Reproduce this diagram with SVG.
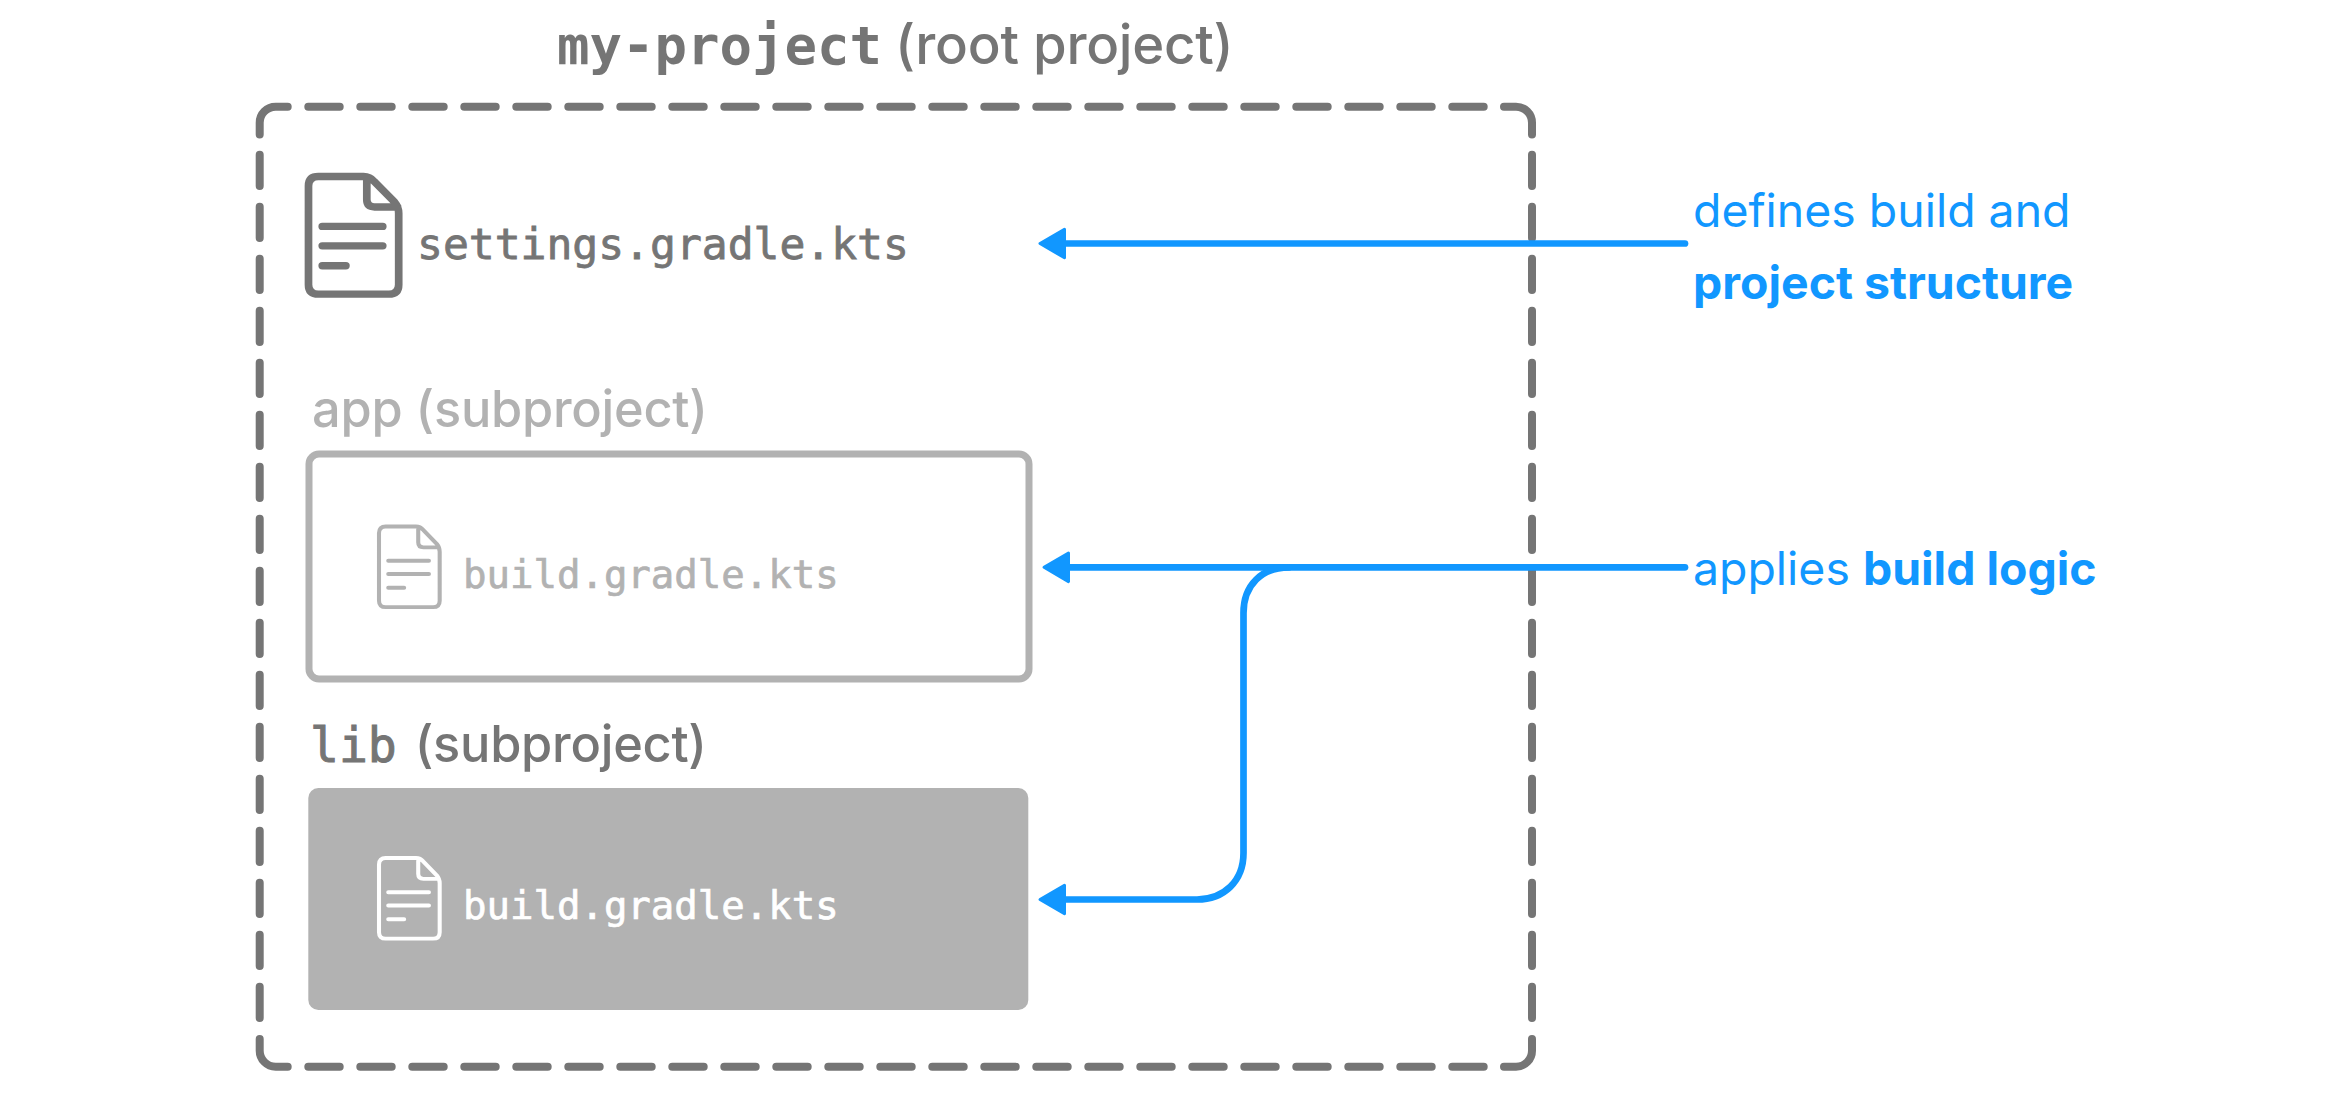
<svg xmlns="http://www.w3.org/2000/svg" width="2350" height="1100" viewBox="0 0 2350 1100">
<style>
.s{font-family:"Inter","Liberation Sans",sans-serif}
.h{font-weight:500;letter-spacing:-.25px}
.m{font-family:"DejaVu Sans Mono","Liberation Mono",monospace}
.g{fill:#757575}.l{fill:#b2b2b2}.b{fill:#1197ff}.w{fill:#fff}
.t{font-size:54.500px}.u{font-size:50.500px}.a{font-size:46.400px}.c{font-size:39px;stroke-width:.7px}
.sg{stroke:#757575}.sl{stroke:#b2b2b2}.sw{stroke:#fff}
.k{fill:none;stroke:#1197ff;stroke-width:6.700;stroke-linecap:round}
.i{fill:none;stroke-linejoin:round;stroke-linecap:round}
.d{fill:none;stroke:#757575;stroke-width:8;stroke-linecap:round}
</style>
<defs>
<marker id="ah" markerUnits="userSpaceOnUse" markerWidth="30" markerHeight="36" refX="0" refY="18" orient="auto" viewBox="0 0 30 36"><path d="M1.500 3.700V32.300L26 18Z" fill="#1197ff" stroke="#1197ff" stroke-width="3" stroke-linejoin="round"/></marker>
<path id="doc" d="M9 0H50Q56 0 60 5L78 24Q82 29 82 35V103Q82 112 73 112H9Q0 112 0 103V9Q0 0 9 0ZM53 1V22Q53 29 60 29H81M12.500 47.500H67.500M12.500 66H67.500M12.500 85H34"/>
</defs>
<g id="root">
<path class="d" stroke-dasharray="31.400 20.600" d="M308.300 106.700H1484M308.300 1066.700H1484M259.700 154.700V1019M1532 154.700V1019"/>
<path class="d" d="M259.700 134.500V122.700A16 16 0 0 1 275.700 106.700H287.700M1504 106.700H1516A16 16 0 0 1 1532 122.700V134.500M1532 1039V1050.700A16 16 0 0 1 1516 1066.700H1504M259.700 1039V1050.700A16 16 0 0 0 275.700 1066.700H287.700"/>
<text x="557" y="64" class="t"><tspan class="m g" font-weight="700" font-size="54">my-project</tspan><tspan class="s g h" dx="13">(root project)</tspan></text>
</g>
<g id="settings">
<use href="#doc" class="i" stroke="#757575" stroke-width="7" transform="translate(308.500 176.500) scale(1.1 1.05)"/>
<text x="417" y="259" class="m g sg" font-size="43" stroke-width=".8">settings.gradle.kts</text>
</g>
<g id="app">
<text x="312" y="427" class="s l u h">app (subproject)</text>
<rect x="309" y="454" width="720" height="225" rx="10" fill="#fff" stroke="#b2b2b2" stroke-width="7"/>
<use href="#doc" class="i" stroke="#b2b2b2" stroke-width="5.500" transform="translate(379 526.500) scale(.74 .72)"/>
<text x="463" y="588" class="m l c sl">build.gradle.kts</text>
</g>
<g id="lib">
<text x="310" y="761.500" class="g u"><tspan class="m sg" stroke-width="1" font-size="48">lib</tspan><tspan class="s h" dx="18">(subproject)</tspan></text>
<rect x="308.300" y="788" width="720" height="222" rx="10" fill="#b2b2b2"/>
<use href="#doc" class="i" stroke="#fff" stroke-width="5.500" transform="translate(379 858) scale(.74 .72)"/>
<text x="463" y="919" class="m w c sw">build.gradle.kts</text>
</g>
<g id="connectors">
<path class="k" d="M1685 243.500H1066" marker-end="url(#ah)"/>
<path class="k" d="M1685 567.300H1070" marker-end="url(#ah)"/>
<path class="k" d="M1289 567.300C1262 567.300 1243.500 585 1243.500 613V853C1243.500 881 1224 899.500 1197 899.500H1066" marker-end="url(#ah)"/>
</g>
<g id="notes">
<text x="1693" y="226.500" class="s b a">defines build and</text>
<text x="1693" y="298.500" class="s b a" font-weight="700">project structure</text>
<text x="1693" y="585" class="s b a">applies <tspan font-weight="700">build logic</tspan></text>
</g>
</svg>
